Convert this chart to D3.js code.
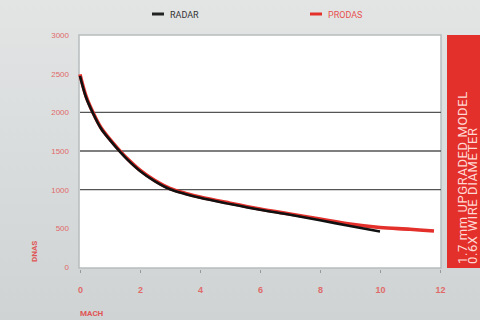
<!DOCTYPE html>
<html>
<head>
<meta charset="utf-8">
<script src="https://cdn.jsdelivr.net/npm/d3@7"></script>
<style>
  html, body { margin: 0; padding: 0; }
  body { width: 480px; height: 320px; overflow: hidden; font-family: "Roboto", sans-serif; }
</style>
</head>
<body>
<svg id="chart" width="480" height="320"></svg>
<script>
// values
const prodasMach = [0, 0.2, 0.43, 0.7, 1, 1.33, 1.6, 2, 2.5, 3, 3.5, 4, 5, 6, 7, 8, 9, 10, 11, 11.8];
const prodasDrag = [2490, 2210, 2000, 1800, 1650, 1502, 1392, 1252, 1117, 1015, 955, 905, 825, 750, 685, 620, 555, 510, 488, 465];
const radarMach = [0, 0.2, 0.43, 0.7, 1, 1.33, 1.6, 2, 2.5, 3, 3.5, 4, 5, 6, 7, 8, 9, 10];
const radarDrag = [2470, 2195, 1990, 1790, 1640, 1492, 1382, 1242, 1107, 1005, 945, 895, 815, 740, 675, 605, 530, 460];
const xTicks = [0, 2, 4, 6, 8, 10, 12];
const yTicks = [0, 500, 1000, 1500, 2000, 2500, 3000];
const gridValues = [1000, 1500, 2000];
const legendItems = ["RADAR", "PRODAS"];
const panelLines = ["1.7 mm UPGRADED MODEL", "0.6X WIRE DIAMETER"];

const red = "#e4302b";
const svg = d3.select("#chart");

// background
const defs = svg.append("defs");
const grad = defs.append("linearGradient").attr("id", "bg").attr("x1", 0).attr("y1", 0).attr("x2", 0).attr("y2", 1);
grad.append("stop").attr("offset", "0%").attr("stop-color", "#e3e5e5");
grad.append("stop").attr("offset", "100%").attr("stop-color", "#cfd3d3");
svg.append("rect").attr("width", 480).attr("height", 320).attr("fill", "url(#bg)");

const x = d3.scaleLinear().domain([0, 12]).range([80, 440]);
const y = d3.scaleLinear().domain([0, 3000]).range([267, 35]);

// plot area
svg.append("rect")
  .attr("x", x(0) - 1).attr("y", y(3000))
  .attr("width", x(12) - x(0) + 2).attr("height", y(0) - y(3000) + 1)
  .attr("fill", "#fff").attr("stroke", "#b8bcbc").attr("stroke-width", 1.5);

// grid
svg.append("g").selectAll("line").data(gridValues).join("line")
  .attr("x1", x(0)).attr("x2", x(12) + 1)
  .attr("y1", d => y(d)).attr("y2", d => y(d))
  .attr("stroke", "#555").attr("stroke-width", 1.4);

// axes
const xAxis = svg.append("g").attr("transform", `translate(0,${y(0) + 3})`)
  .call(d3.axisBottom(x).tickValues(xTicks).tickSize(3).tickPadding(14).tickFormat(d3.format("d")));
xAxis.select(".domain").remove();
xAxis.selectAll("line").attr("stroke", "#999");
xAxis.selectAll("text").attr("fill", "#e06a6a").attr("font-size", 9).attr("font-weight", "bold");

const yAxis = svg.append("g").attr("transform", `translate(${x(0) - 9},0)`)
  .call(d3.axisLeft(y).tickValues(yTicks).tickSize(0).tickPadding(2).tickFormat(d3.format("d")));
yAxis.select(".domain").remove();
yAxis.selectAll("text").attr("fill", "#e06a6a").attr("font-size", 8);

svg.append("text").attr("x", 80).attr("y", 316).text("MACH")
  .attr("fill", "#e05555").attr("font-size", 8).attr("font-weight", "bold");
svg.append("text").attr("transform", "translate(37,262) rotate(-90)").text("DNAS")
  .attr("fill", "#e05555").attr("font-size", 8).attr("font-weight", "bold");

// curves
const line = d3.line().x(d => x(d[0])).y(d => y(d[1])).curve(d3.curveCatmullRom.alpha(0.5));
svg.append("path").datum(d3.zip(prodasMach, prodasDrag))
  .attr("d", line).attr("fill", "none").attr("stroke", red).attr("stroke-width", 3.6);
svg.append("path").datum(d3.zip(radarMach, radarDrag))
  .attr("d", line).attr("fill", "none").attr("stroke", "#111").attr("stroke-width", 2.6);

// legend
const legendX = [152, 310];
const legendColors = ["#222", red];
const lg = svg.append("g").selectAll("g").data(legendItems).join("g")
  .attr("transform", (d, i) => `translate(${legendX[i]},14)`);
lg.append("line").attr("x1", 0).attr("x2", 12).attr("y1", 0).attr("y2", 0)
  .attr("stroke", (d, i) => legendColors[i]).attr("stroke-width", 3);
lg.append("text").attr("x", 18).attr("y", 3.5).text(d => d)
  .attr("fill", (d, i) => i === 0 ? "#333" : "#e85050").attr("font-size", 9);

// red side panel
svg.append("rect").attr("x", 447).attr("y", 35).attr("width", 33).attr("height", 233).attr("fill", red);
svg.append("g").selectAll("text").data(panelLines).join("text")
  .attr("transform", (d, i) => `translate(${467 + i * 10},264) rotate(-90)`)
  .text(d => d)
  .attr("fill", "#ffd9d4").attr("font-size", 13).attr("letter-spacing", 0.6);
</script>
</body>
</html>
